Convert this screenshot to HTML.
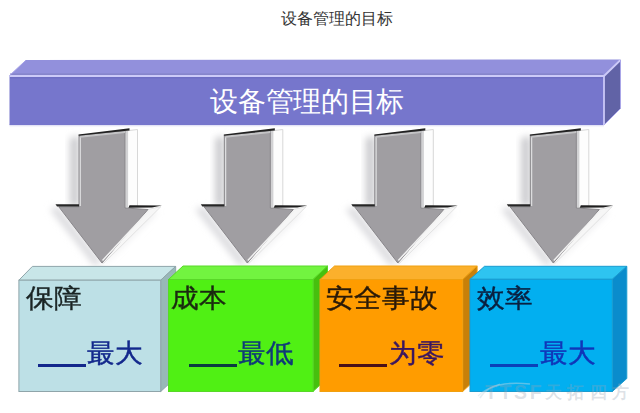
<!DOCTYPE html>
<html><head><meta charset="utf-8">
<style>
html,body{margin:0;padding:0;background:#fff;width:640px;height:413px;overflow:hidden}
.t{position:absolute;font-family:"Liberation Sans",sans-serif;white-space:nowrap;line-height:1}
.b{-webkit-text-stroke:0.45px currentColor;transform:scaleY(0.94);transform-origin:0 0}
</style></head><body>
<svg width="640" height="413" viewBox="0 0 640 413" style="position:absolute;left:0;top:0">
<defs>
<linearGradient id="shL" x1="0" x2="1" y1="0" y2="0">
<stop offset="0" stop-color="#ffffff"/><stop offset="1" stop-color="#c9c9cc"/>
</linearGradient>
<linearGradient id="barsh" x1="0" x2="0" y1="0" y2="1"><stop offset="0" stop-color="#b8b8e8"/><stop offset="1" stop-color="#ffffff" stop-opacity="0"/></linearGradient>
<filter id="bl" x="-50%" y="-50%" width="200%" height="200%"><feGaussianBlur stdDeviation="3.5"/></filter>
</defs>
<!-- purple bar -->
<polygon points="9.5,75.5 26,60 620.5,59.5 604,75.5" fill="#9290dc"/>
<polygon points="604,75.5 620.5,59.5 620.5,108.5 604,125" fill="#6163a6"/>
<rect x="9.5" y="124" width="594.5" height="4" fill="url(#barsh)"/>
<rect x="9.5" y="75.5" width="594.5" height="49.5" fill="#7676cc"/>
<line x1="10" y1="74.2" x2="603" y2="74.2" stroke="#8282c6" stroke-width="1.2"/>
<line x1="10" y1="77.8" x2="603" y2="77.8" stroke="#6c6cc0" stroke-width="1"/>
<polyline points="9.5,76 604,76 620.5,60" fill="none" stroke="#cccaf8" stroke-width="1.8"/>
<line x1="604" y1="76" x2="604" y2="125" stroke="#cac8f8" stroke-width="1.8"/>
<polyline points="620.5,60 620.5,108.5 604.5,124.5" fill="none" stroke="#aaa6e8" stroke-width="1"/>
<polyline points="9.6,75.5 26,60.2" fill="none" stroke="#a8a4e8" stroke-width="1"/>
<polygon points="70.0,138.0 79.0,136.0 79.0,206.0 70.0,206.0" fill="#cacace" filter="url(#bl)"/>
<polygon points="50.0,209.0 58.0,207.0 102.0,263.0 94.0,265.0" fill="#d8d8dc" filter="url(#bl)"/>
<polygon points="150.0,211.0 158.0,211.0 106.0,262.0 102.0,263.0" fill="#e8e8ea" filter="url(#bl)"/>
<polygon points="125.0,131.0 137.5,129.5 137.5,206.0 125.0,208.0" fill="#fdfdfd" stroke="#d8d8d8" stroke-width="1"/>
<line x1="126.8" y1="131" x2="126.8" y2="207" stroke="#d2d2d4" stroke-width="2.6"/>
<polygon points="148.0,209.5 161.0,206.5 104.0,263.0 102.0,263.0" fill="#f6f6f6" stroke="#dddddd" stroke-width="0.8"/>
<polygon points="79.0,135.5 125.0,131.0 125.0,208.0 148.0,209.5 102.0,263.0 58.8,206.8 79.0,206.8" fill="#a09ea2" stroke="#88868a" stroke-width="1"/>
<polyline points="80.3,206.0 80.3,137.0" fill="none" stroke="#dcdcde" stroke-width="1.3"/>
<polyline points="149.0,210.5 102.5,260.5" fill="none" stroke="#f2f2f2" stroke-width="1.5"/>
<polygon points="80.0,135.8 125.0,131.0 125.0,133.0 80.0,137.8" fill="#c4c4c6"/>
<polygon points="78.5,134.6 129.5,128.2 129.5,130.4 78.5,135.8" fill="#222"/>
<polygon points="55.5,204.2 79.0,204.2 79.0,206.4 57.0,206.4" fill="#262626"/>
<polygon points="129.5,205.3 162.0,205.6 152.0,207.6 128.5,207.8" fill="#1e1e1e"/>
<polygon points="215.3,138.0 224.3,136.0 224.3,206.0 215.3,206.0" fill="#cacace" filter="url(#bl)"/>
<polygon points="195.3,209.0 203.3,207.0 247.3,263.0 239.3,265.0" fill="#d8d8dc" filter="url(#bl)"/>
<polygon points="295.3,211.0 303.3,211.0 251.3,262.0 247.3,263.0" fill="#e8e8ea" filter="url(#bl)"/>
<polygon points="270.3,131.0 282.8,129.5 282.8,206.0 270.3,208.0" fill="#fdfdfd" stroke="#d8d8d8" stroke-width="1"/>
<line x1="272.1" y1="131" x2="272.1" y2="207" stroke="#d2d2d4" stroke-width="2.6"/>
<polygon points="293.3,209.5 306.3,206.5 249.3,263.0 247.3,263.0" fill="#f6f6f6" stroke="#dddddd" stroke-width="0.8"/>
<polygon points="224.3,135.5 270.3,131.0 270.3,208.0 293.3,209.5 247.3,263.0 204.1,206.8 224.3,206.8" fill="#a09ea2" stroke="#88868a" stroke-width="1"/>
<polyline points="225.6,206.0 225.6,137.0" fill="none" stroke="#dcdcde" stroke-width="1.3"/>
<polyline points="294.3,210.5 247.8,260.5" fill="none" stroke="#f2f2f2" stroke-width="1.5"/>
<polygon points="225.3,135.8 270.3,131.0 270.3,133.0 225.3,137.8" fill="#c4c4c6"/>
<polygon points="223.8,134.6 274.8,128.2 274.8,130.4 223.8,135.8" fill="#222"/>
<polygon points="200.8,204.2 224.3,204.2 224.3,206.4 202.3,206.4" fill="#262626"/>
<polygon points="274.8,205.3 307.3,205.6 297.3,207.6 273.8,207.8" fill="#1e1e1e"/>
<polygon points="365.8,138.0 374.8,136.0 374.8,206.0 365.8,206.0" fill="#cacace" filter="url(#bl)"/>
<polygon points="345.8,209.0 353.8,207.0 397.8,263.0 389.8,265.0" fill="#d8d8dc" filter="url(#bl)"/>
<polygon points="445.8,211.0 453.8,211.0 401.8,262.0 397.8,263.0" fill="#e8e8ea" filter="url(#bl)"/>
<polygon points="420.8,131.0 433.3,129.5 433.3,206.0 420.8,208.0" fill="#fdfdfd" stroke="#d8d8d8" stroke-width="1"/>
<line x1="422.6" y1="131" x2="422.6" y2="207" stroke="#d2d2d4" stroke-width="2.6"/>
<polygon points="443.8,209.5 456.8,206.5 399.8,263.0 397.8,263.0" fill="#f6f6f6" stroke="#dddddd" stroke-width="0.8"/>
<polygon points="374.8,135.5 420.8,131.0 420.8,208.0 443.8,209.5 397.8,263.0 354.6,206.8 374.8,206.8" fill="#a09ea2" stroke="#88868a" stroke-width="1"/>
<polyline points="376.1,206.0 376.1,137.0" fill="none" stroke="#dcdcde" stroke-width="1.3"/>
<polyline points="444.8,210.5 398.3,260.5" fill="none" stroke="#f2f2f2" stroke-width="1.5"/>
<polygon points="375.8,135.8 420.8,131.0 420.8,133.0 375.8,137.8" fill="#c4c4c6"/>
<polygon points="374.3,134.6 425.3,128.2 425.3,130.4 374.3,135.8" fill="#222"/>
<polygon points="351.3,204.2 374.8,204.2 374.8,206.4 352.8,206.4" fill="#262626"/>
<polygon points="425.3,205.3 457.8,205.6 447.8,207.6 424.3,207.8" fill="#1e1e1e"/>
<polygon points="521.3,138.0 530.3,136.0 530.3,206.0 521.3,206.0" fill="#cacace" filter="url(#bl)"/>
<polygon points="501.3,209.0 509.3,207.0 553.3,263.0 545.3,265.0" fill="#d8d8dc" filter="url(#bl)"/>
<polygon points="601.3,211.0 609.3,211.0 557.3,262.0 553.3,263.0" fill="#e8e8ea" filter="url(#bl)"/>
<polygon points="576.3,131.0 588.8,129.5 588.8,206.0 576.3,208.0" fill="#fdfdfd" stroke="#d8d8d8" stroke-width="1"/>
<line x1="578.1" y1="131" x2="578.1" y2="207" stroke="#d2d2d4" stroke-width="2.6"/>
<polygon points="599.3,209.5 612.3,206.5 555.3,263.0 553.3,263.0" fill="#f6f6f6" stroke="#dddddd" stroke-width="0.8"/>
<polygon points="530.3,135.5 576.3,131.0 576.3,208.0 599.3,209.5 553.3,263.0 510.1,206.8 530.3,206.8" fill="#a09ea2" stroke="#88868a" stroke-width="1"/>
<polyline points="531.6,206.0 531.6,137.0" fill="none" stroke="#dcdcde" stroke-width="1.3"/>
<polyline points="600.3,210.5 553.8,260.5" fill="none" stroke="#f2f2f2" stroke-width="1.5"/>
<polygon points="531.3,135.8 576.3,131.0 576.3,133.0 531.3,137.8" fill="#c4c4c6"/>
<polygon points="529.8,134.6 580.8,128.2 580.8,130.4 529.8,135.8" fill="#222"/>
<polygon points="506.8,204.2 530.3,204.2 530.3,206.4 508.3,206.4" fill="#262626"/>
<polygon points="580.8,205.3 613.3,205.6 603.3,207.6 579.8,207.8" fill="#1e1e1e"/>
<polygon points="18.9,280.2 32.4,266.4 175.7,266.4 160.7,280.2" fill="#c8e6e8" stroke="#8fa5aa" stroke-width="1"/>
<polygon points="160.7,280.2 175.7,266.4 175.7,377.7 160.7,391.5" fill="#98b8b8" stroke="#8fa5aa" stroke-width="1"/>
<rect x="18.9" y="280.2" width="141.79999999999998" height="111.30000000000001" fill="#bde0e6" stroke="#8fa5aa" stroke-width="1"/>
<polygon points="168.5,279.5 183.0,266.0 327.5,266.0 313,279.5" fill="#72f440" stroke="#58d828" stroke-width="1"/>
<polygon points="313,279.5 327.5,266.0 327.5,378.0 313,391.5" fill="#46c00e" stroke="#58d828" stroke-width="1"/>
<rect x="168.5" y="279.5" width="144.5" height="112.0" fill="#50f014" stroke="#58d828" stroke-width="1"/>
<polygon points="320,279.5 334.5,266.0 477.1,266.0 462.6,279.5" fill="#fbb02c" stroke="#f0a010" stroke-width="1"/>
<polygon points="462.6,279.5 477.1,266.0 477.1,378.0 462.6,391.5" fill="#c88008" stroke="#f0a010" stroke-width="1"/>
<rect x="320" y="279.5" width="142.60000000000002" height="112.0" fill="#ff9c00" stroke="#f0a010" stroke-width="1"/>
<polygon points="470,279.3 484.5,266.3 626.8,266.3 612.3,279.3" fill="#2ec4f0" stroke="#1a9cd0" stroke-width="1"/>
<polygon points="612.3,279.3 626.8,266.3 626.8,378.5 612.3,391.5" fill="#0a8ccc" stroke="#1a9cd0" stroke-width="1"/>
<rect x="470" y="279.3" width="142.29999999999995" height="112.19999999999999" fill="#02aff0" stroke="#1a9cd0" stroke-width="1"/>
</svg>
<div class="t" style="left:281px;top:10.5px;font-size:16px;color:#333">设备管理的目标</div>
<div class="t" style="left:210.4px;top:88px;font-size:28px;letter-spacing:-0.35px;color:#fff">设备管理的目标</div>
<div class="t b" style="left:26px;top:284.5px;font-size:28px;color:#1a2424">保障</div>
<div class="t b" style="left:171px;top:284.5px;font-size:28px;color:#1a2a10">成本</div>
<div class="t b" style="left:326px;top:284.5px;font-size:28px;color:#2a1a08">安全事故</div>
<div class="t b" style="left:477px;top:284.5px;font-size:28px;color:#0a2040">效率</div>
<div style="position:absolute;left:38px;top:364px;width:48px;height:2.5px;background:#13288c"></div>
<div class="t b" style="left:87px;top:339.5px;font-size:28px;color:#13288c">最大</div>
<div style="position:absolute;left:189px;top:364px;width:48px;height:2.5px;background:#0a3a40"></div>
<div class="t b" style="left:238px;top:339.5px;font-size:28px;color:#103a78">最低</div>
<div style="position:absolute;left:339px;top:364px;width:48px;height:2.5px;background:#4a1018"></div>
<div class="t b" style="left:389px;top:339.5px;font-size:28px;color:#3a1660">为零</div>
<div style="position:absolute;left:490px;top:364px;width:48px;height:2.5px;background:#0c40b8"></div>
<div class="t b" style="left:540px;top:339.5px;font-size:28px;color:#1036b8">最大</div>
<svg width="640" height="413" style="position:absolute;left:0;top:0"><path d="M480,398 Q490,380 530,384" fill="none" stroke="rgba(200,215,225,0.45)" stroke-width="1.6"/><path d="M478,396 Q486,388 500,384" fill="none" stroke="rgba(200,215,225,0.4)" stroke-width="1.2"/></svg>
<div class="t" style="left:485px;top:383px;font-size:19.5px;font-weight:bold;color:rgba(150,165,180,0.33);letter-spacing:2.6px">TTSF</div>
<div class="t" style="left:545px;top:383.5px;font-size:16.5px;font-weight:bold;color:rgba(150,165,180,0.33)">天</div>
<div class="t" style="left:567px;top:383.5px;font-size:16.5px;font-weight:bold;color:rgba(150,165,180,0.33)">拓</div>
<div class="t" style="left:590px;top:383.5px;font-size:16.5px;font-weight:bold;color:rgba(150,165,180,0.33)">四</div>
<div class="t" style="left:612px;top:383.5px;font-size:16.5px;font-weight:bold;color:rgba(150,165,180,0.33)">方</div>
</body></html>
